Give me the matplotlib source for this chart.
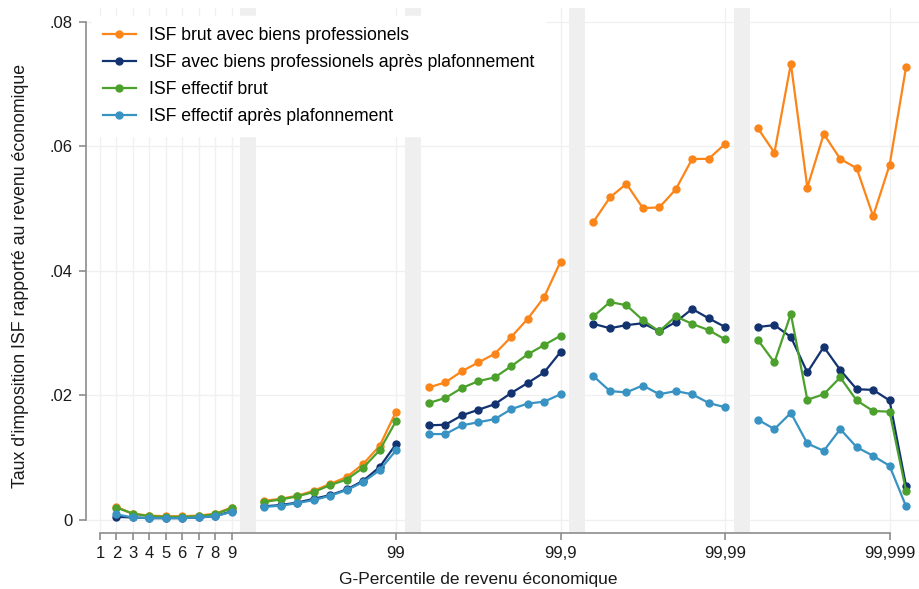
import numpy as np
import matplotlib
matplotlib.use("Agg")
import matplotlib.pyplot as plt

plt.rcParams["font.family"] = ["Liberation Sans", "DejaVu Sans"]

# G-percentile groups: five blocks separated by gray bands
seg_start = [1, 10, 20, 30, 40]

isf_brut_pro = [
    [0.0021, 0.0010, 0.0007, 0.0006, 0.0006, 0.0007, 0.0010, 0.0020],
    [0.0031, 0.0034, 0.0039, 0.0047, 0.0058, 0.0069, 0.0090, 0.0119, 0.0174],
    [0.0213, 0.0221, 0.0239, 0.0253, 0.0267, 0.0294, 0.0323, 0.0358, 0.0415],
    [0.0479, 0.0518, 0.0540, 0.0501, 0.0502, 0.0531, 0.0580, 0.0580, 0.0604],
    [0.0629, 0.0590, 0.0733, 0.0534, 0.0620, 0.0580, 0.0565, 0.0488, 0.0570, 0.0727],
]
isf_pro_plaf = [
    [0.0005, 0.0004, 0.0003, 0.0003, 0.0003, 0.0004, 0.0006, 0.0014],
    [0.0022, 0.0024, 0.0028, 0.0034, 0.0040, 0.0049, 0.0063, 0.0085, 0.0122],
    [0.0152, 0.0153, 0.0168, 0.0177, 0.0186, 0.0204, 0.0220, 0.0237, 0.0270],
    [0.0315, 0.0308, 0.0313, 0.0316, 0.0303, 0.0318, 0.0339, 0.0324, 0.0310],
    [0.0310, 0.0313, 0.0294, 0.0237, 0.0278, 0.0241, 0.0210, 0.0209, 0.0192, 0.0055],
]
isf_eff_brut = [
    [0.0020, 0.0010, 0.0006, 0.0005, 0.0005, 0.0006, 0.0009, 0.0019],
    [0.0029, 0.0033, 0.0038, 0.0045, 0.0056, 0.0065, 0.0084, 0.0112, 0.0159],
    [0.0188, 0.0196, 0.0212, 0.0223, 0.0229, 0.0247, 0.0266, 0.0281, 0.0296],
    [0.0327, 0.0350, 0.0345, 0.0321, 0.0303, 0.0327, 0.0315, 0.0305, 0.0290],
    [0.0289, 0.0253, 0.0331, 0.0193, 0.0202, 0.0229, 0.0192, 0.0175, 0.0174, 0.0047],
]
isf_eff_plaf = [
    [0.0009, 0.0004, 0.0003, 0.0003, 0.0003, 0.0004, 0.0006, 0.0013],
    [0.0021, 0.0023, 0.0027, 0.0032, 0.0039, 0.0048, 0.0061, 0.0080, 0.0112],
    [0.0138, 0.0138, 0.0152, 0.0157, 0.0162, 0.0178, 0.0187, 0.0190, 0.0202],
    [0.0231, 0.0207, 0.0205, 0.0216, 0.0202, 0.0207, 0.0202, 0.0188, 0.0181],
    [0.0161, 0.0146, 0.0172, 0.0123, 0.0111, 0.0146, 0.0117, 0.0103, 0.0087, 0.0022],
]

series = [
    ("ISF brut avec biens professionels", isf_brut_pro, "#fb8519"),
    ("ISF avec biens professionels après plafonnement", isf_pro_plaf, "#123370"),
    ("ISF effectif brut", isf_eff_brut, "#4ba12c"),
    ("ISF effectif après plafonnement", isf_eff_plaf, "#3893c3"),
]

xtick_pos = [0, 1, 2, 3, 4, 5, 6, 7, 8, 18, 28, 38, 48]
xtick_labels = ["1", "2", "3", "4", "5", "6", "7", "8", "9",
                "99", "99,9", "99,99", "99,999"]
band_pos = [9, 19, 29, 39]
ytick_pos = [0, 0.02, 0.04, 0.06, 0.08]
ytick_labels = ["0", ".02", ".04", ".06", ".08"]

fig = plt.figure(figsize=(9.2, 5.89), dpi=100)
ax = fig.add_axes([0.0935, 0.095, 0.9065, 0.891])

for b in band_pos:
    ax.axvspan(b - 0.47, b + 0.5, color="#efefef", lw=0, zorder=0)

for label, segs, color in series:
    for i, (start, vals) in enumerate(zip(seg_start, segs)):
        x = np.arange(start, start + len(vals))
        ax.plot(x, vals, color=color, lw=1.6, marker="o", ms=5,
                label=label if i == 0 else None, zorder=3)

ax.set_xlim(-0.85, 49.85)
ax.set_ylim(-0.0021, 0.0822)
ax.set_xticks(xtick_pos)
ax.set_xticklabels(xtick_labels)
ax.set_yticks(ytick_pos)
ax.set_yticklabels(ytick_labels)
ax.grid(True, color="#f0f0f0", lw=1, zorder=1)
ax.set_axisbelow(True)

for s in ["top", "right"]:
    ax.spines[s].set_visible(False)
ax.spines["left"].set_bounds(0, 0.08)
ax.spines["bottom"].set_bounds(0, 48)
for s in ["left", "bottom"]:
    ax.spines[s].set_color("#8c8c8c")
    ax.spines[s].set_linewidth(1.2)
ax.tick_params(axis="both", colors="#8c8c8c", labelcolor="#1a1a1a",
               length=5, width=1.2, labelsize=12, direction="out", pad=4.5)

ax.set_ylabel("Taux d'imposition ISF rapporté au revenu économique",
              fontsize=12.8, color="#1a1a1a")
ax.yaxis.set_label_coords(-0.068, 0.49)
ax.set_xlabel("G-Percentile de revenu économique", fontsize=12.5,
              color="#1a1a1a")
ax.xaxis.set_label_coords(0.47, -0.075)

leg = ax.legend(loc="upper left", bbox_to_anchor=(0.0072, 0.985), frameon=True,
                fontsize=12.7, handlelength=1.9, handletextpad=0.75,
                labelspacing=0.58, borderaxespad=0, borderpad=0.6)
leg.get_frame().set_facecolor("white")
leg.get_frame().set_edgecolor("white")
leg.get_frame().set_alpha(1)
leg.get_frame().set_boxstyle("square", pad=0)

fig.savefig("out.png", dpi=100)
